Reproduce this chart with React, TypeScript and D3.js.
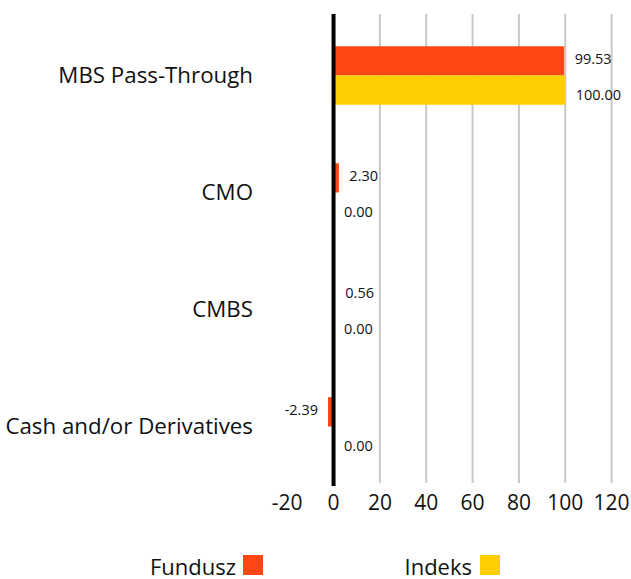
import React from "react";
import * as d3 from "d3";

const categories = ["MBS Pass-Through", "CMO", "CMBS", "Cash and/or Derivatives"];
const fundValues = [99.53, 2.3, 0.56, -2.39];
const indexValues = [100.0, 0.0, 0.0, 0.0];
const xTicks = [-20, 0, 20, 40, 60, 80, 100, 120];
const seriesNames = ["Fundusz", "Indeks"];
const seriesColors = ["#FF4713", "#FFCE00"];

const W = 631;
const H = 579;
const FONT = "'Open Sans', sans-serif";

export default function App() {
  const x = d3.scaleLinear().domain([-20, 120]).range([287.2, 611.6]);
  const y = d3
    .scaleBand<string>()
    .domain(categories)
    .range([17, 485])
    .paddingInner(0.5)
    .paddingOuter(0.25);
  const sub = d3
    .scaleBand<string>()
    .domain(seriesNames)
    .range([0, y.bandwidth()]);

  const series = [fundValues, indexValues];
  const labelDy = [-1.5, 5];

  return (
    <svg
      width={W}
      height={H}
      style={{ position: "absolute", left: 0, top: 0, display: "block" }}
      fontFamily={FONT}
    >
      {/* grid */}
      {xTicks
        .filter((t) => t > 0)
        .map((t) => (
          <line
            key={"g" + t}
            x1={x(t)}
            x2={x(t)}
            y1={14}
            y2={483}
            stroke="#c8c8c8"
            strokeWidth={2}
          />
        ))}
      {/* bars */}
      {categories.map((c, i) =>
        series.map((vals, s) => {
          const v = vals[i];
          const y0 = (y(c) as number) + (sub(seriesNames[s]) as number);
          const x0 = x(Math.min(0, v));
          const x1 = x(Math.max(0, v));
          return (
            <rect
              key={c + s}
              x={x0}
              y={y0}
              width={Math.max(0, x1 - x0)}
              height={sub.bandwidth()}
              fill={seriesColors[s]}
            />
          );
        })
      )}
      {/* zero line */}
      <line x1={x(0)} x2={x(0)} y1={14} y2={486} stroke="#000" strokeWidth={4} />
      {/* value labels */}
      {categories.map((c, i) =>
        series.map((vals, s) => {
          const v = vals[i];
          const yc =
            (y(c) as number) +
            (sub(seriesNames[s]) as number) +
            sub.bandwidth() / 2 +
            labelDy[s];
          const neg = v < 0;
          return (
            <text
              key={"l" + c + s}
              x={neg ? x(v) - 10 : x(v) + 10.5}
              y={yc + 5}
              fontSize={14.5}
              textAnchor={neg ? "end" : "start"}
              fill="#111"
            >
              {v.toFixed(2)}
            </text>
          );
        })
      )}
      {/* category labels */}
      {categories.map((c) => (
        <text
          key={"c" + c}
          x={253}
          y={(y(c) as number) + y.bandwidth() / 2 + 7.8}
          fontSize={22.3}
          textAnchor="end"
          fill="#111"
        >
          {c}
        </text>
      ))}
      {/* x tick labels */}
      {xTicks.map((t) => (
        <text
          key={"t" + t}
          x={x(t)}
          y={510}
          fontSize={21}
          textAnchor="middle"
          fill="#111"
        >
          {t}
        </text>
      ))}
      {/* legend */}
      <text x={236} y={574.5} fontSize={22} textAnchor="end" fill="#111">
        {seriesNames[0]}
      </text>
      <rect x={243} y={555} width={20} height={20} fill={seriesColors[0]} />
      <text x={472} y={574.5} fontSize={22} textAnchor="end" fill="#111">
        {seriesNames[1]}
      </text>
      <rect x={480} y={555} width={20} height={20} fill={seriesColors[1]} />
    </svg>
  );
}
